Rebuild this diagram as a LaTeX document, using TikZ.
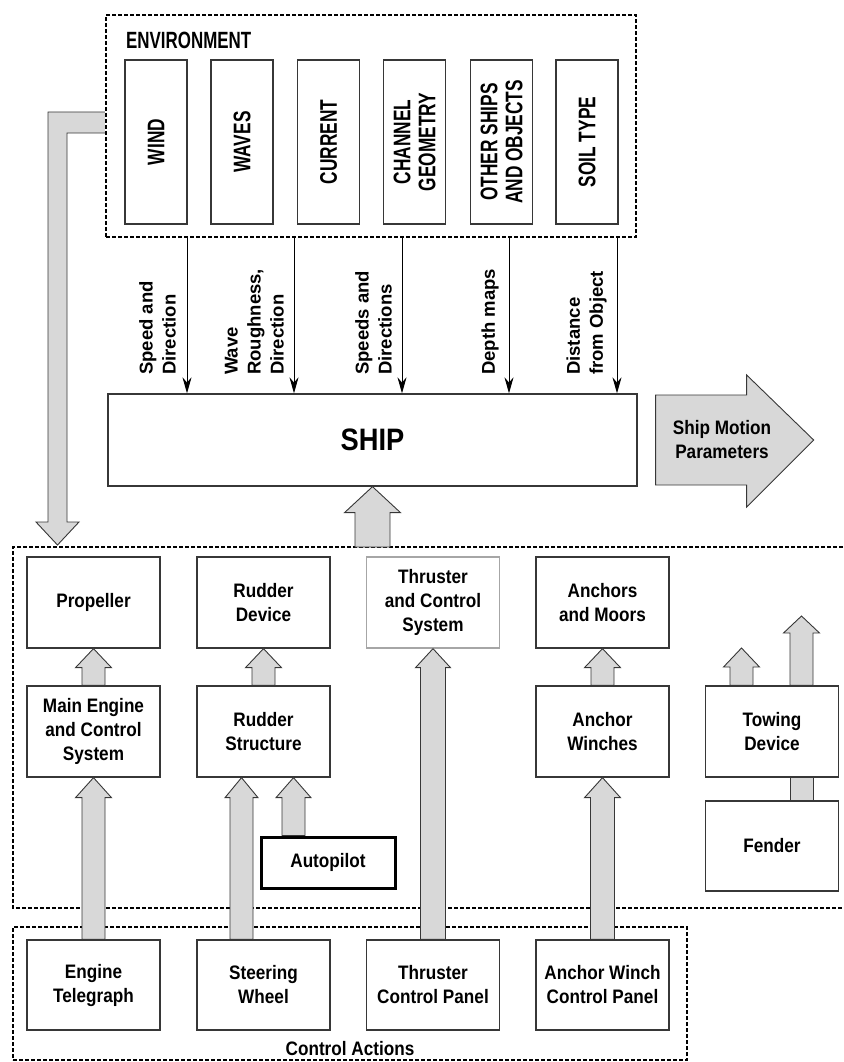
\documentclass[tikz,border=0pt]{standalone}
\usepackage{fontspec}
\setmainfont{Liberation Sans}
\newfontfamily\narrowfont[FakeStretch=0.88]{Liberation Sans}
\newfontfamily\envfont[FakeStretch=0.72]{Liberation Sans}
\usetikzlibrary{arrows.meta,calc}

\definecolor{arrowgray}{RGB}{216,216,216}
\definecolor{linegray}{RGB}{55,55,55}

% grey block arrow pointing up: [x shift]{from}{to}{half shaft}{half head}{head length}
\newcommand\blockup[6][0]{%
  \filldraw[block] let \p1=($(#2)+(#1,0)$), \p2=($(#3)+(#1,0)$) in
    (\x1-#4pt,\y1) -- (\x1-#4pt,\y2-#6pt) -- (\x1-#5pt,\y2-#6pt) -- (\x1,\y2)
    -- (\x1+#5pt,\y2-#6pt) -- (\x1+#4pt,\y2-#6pt) -- (\x1+#4pt,\y1) -- cycle;}

\begin{document}
\begin{tikzpicture}[x=1pt, y=1pt,
  blk/.style={draw=linegray, line width=1.3pt, minimum width=133pt, minimum height=91pt,
    inner sep=0pt, align=center, font=\narrowfont\bfseries\fontsize{19.5}{24}\selectfont},
  envblk/.style={draw=linegray, line width=1.3pt, rotate=90, minimum width=164pt,
    minimum height=62pt, inner sep=0pt, align=center,
    font=\envfont\bfseries\fontsize{24}{25}\selectfont},
  dotbox/.style={draw=black, line width=2.5pt, dash pattern=on 4pt off 2pt},
  inlabel/.style={rotate=90, anchor=south west, align=left, inner sep=0pt,
    font=\bfseries\fontsize{18.5}{23}\selectfont},
  thinarr/.style={draw=black, line width=1pt, -{Stealth[length=16pt,width=9pt]}}]
\tikzset{block/.style={fill=arrowgray, draw=linegray, line width=0.9pt}}
\useasboundingbox (0,0) rectangle (843,-1062);

% environment
\node[dotbox, minimum width=530pt, minimum height=222pt] (env) at (371,-126) {};
\node[anchor=west, inner sep=0pt, font=\envfont\bfseries\fontsize{23.5}{25}\selectfont] (envt) at (126,-40) {ENVIRONMENT};
\node[envblk] (e1) at (156,-142) {WIND};
\node[envblk] (e2) at (242,-142) {WAVES};
\node[envblk] (e3) at (328.5,-142) {CURRENT};
\node[envblk] (e4) at (414.5,-142) {CHANNEL\\GEOMETRY};
\node[envblk] (e5) at (501.5,-142) {OTHER SHIPS\\AND OBJECTS};
\node[envblk] (e6) at (587,-142) {SOIL TYPE};

% ship
\node[draw=linegray, line width=1.3pt, minimum width=529pt, minimum height=92pt,
  font=\narrowfont\bfseries\fontsize{31}{36}\selectfont] (ship) at (372.5,-440) {SHIP};

\foreach \x in {187,294,402,509,617}
  \draw[thinarr] (env.south -| \x,0) -- (ship.north -| \x,0);

\node[inlabel] (l1) at (176,-375) {Speed and\\Direction};
\node[inlabel] (l2) at (284,-375) {Wave\\Roughness,\\Direction};
\node[inlabel] (l3) at (392,-375) {Speeds and\\Directions};
\node[inlabel] (l4) at (499,-375) {Depth maps};
\node[inlabel] (l5) at (607,-375) {Distance\\from Object};

% output arrow
\filldraw[block] ($(ship.east)+(18,45)$) -- ++(91,0) -- ++(0,20) -- ($(ship.east)+(176,0)$)
  -- ($(ship.east)+(109,-67)$) -- ++(0,22) -- ++(-91,0) -- cycle;
\node[align=center, font=\narrowfont\bfseries\fontsize{19.5}{24}\selectfont] (smp) at (722,-440) {Ship Motion\\Parameters};

% ship systems
\draw[dotbox] (843,-547) -- (13,-547) -- (13,-908) -- (843,-908);
\coordinate (top) at (372.5,-547);

\node[blk] (pr) at (93.5,-602.5) {Propeller};
\node[blk] (rd) at (263.5,-602.5) {Rudder\\Device};
\node[blk, draw=gray!70] (th) at (433,-602.5) {Thruster\\and Control\\System};
\node[blk] (am) at (602.5,-602.5) {Anchors\\and Moors};

\node[blk] (me) at (93.5,-731.5) {Main Engine\\and Control\\System};
\node[blk] (rs) at (263.5,-731.5) {Rudder\\Structure};
\node[blk] (aw) at (602.5,-731.5) {Anchor\\Winches};
\node[blk] (tow) at (772,-731.5) {Towing\\Device};

\node[blk, minimum width=134pt, minimum height=51pt, line width=3pt, draw=black] (ap) at (328,-862.5) {Autopilot};
\node[blk, minimum height=90pt] (fen) at (772,-846) {Fender};
\coordinate (tw1) at (741.5,-648);
\coordinate (tw2) at (801.5,-616);

% control actions
\node[dotbox, minimum width=674pt, minimum height=133pt] (ca) at (350,-993.5) {};
\node[blk, minimum height=90pt] (et) at (93.5,-985) {Engine\\Telegraph};
\node[blk, minimum height=90pt] (sw) at (263.5,-985) {Steering\\Wheel};
\node[blk, minimum height=90pt] (tcp) at (433,-985) {Thruster\\Control Panel};
\node[blk, minimum height=90pt] (acp) at (602.5,-985) {Anchor Winch\\Control Panel};
\node[font=\narrowfont\bfseries\fontsize{19.5}{24}\selectfont] (cat) at (350,-1049) {Control Actions};

% block arrows
\filldraw[block] (env.west |- 0,-112) -- (48,-112) -- (48,-522) -- (36,-522) -- (57.5,-545)
  -- (79,-522) -- (67,-522) -- (67,-133) -- (env.west |- 0,-133);
\blockup{top}{ship.south}{17.5}{28}{26}
\blockup{me.north}{pr.south}{11.5}{18}{19}
\blockup{rs.north}{rd.south}{11.5}{18}{19}
\blockup{aw.north}{am.south}{11.5}{18}{19}
\blockup{et.north}{me.south}{11.5}{18}{20}
\blockup[-22]{sw.north}{rs.south}{11.5}{16.5}{20}
\blockup[-34.5]{ap.north}{rs.south}{11.5}{17.5}{20}
\blockup{tcp.north}{th.south}{12.5}{17.5}{19}
\blockup{acp.north}{aw.south}{12}{18}{20}
\blockup[-30.5]{tow.north}{tw1}{11.5}{18}{19}
\blockup[29.5]{tow.north}{tw2}{11.5}{18}{17}
\filldraw[block] ($(fen.north)+(18,0)$) rectangle ($(tow.south)+(41,0)$);
\end{tikzpicture}
\end{document}
